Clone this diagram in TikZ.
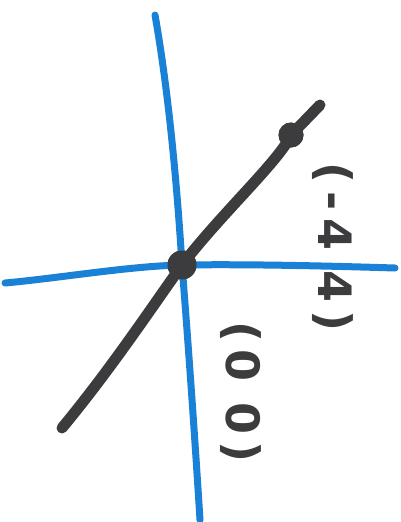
\documentclass[tikz,border=0pt]{standalone}
\usepackage{fontspec}
\setmainfont{DejaVu Sans}
\definecolor{axisblue}{RGB}{25,130,215}
\definecolor{ink}{RGB}{60,60,62}
\begin{document}
\begin{tikzpicture}[x=1pt,y=-1pt,
  axis/.style={draw=axisblue,line width=7pt,line cap=round},
  graph/.style={draw=ink,line width=11pt,line cap=round},
  dot/.style={circle,fill=ink,inner sep=0pt,minimum size=#1},
  lbl/.style={text=ink,font=\fontsize{46}{46}\selectfont\bfseries,rotate=-90,inner sep=0pt}]
\useasboundingbox (0,0) rectangle (400,522);
\coordinate (vt) at (155,15);
\coordinate (vb) at (200,520);
\coordinate (hl) at (5,283);
\coordinate (hr) at (395,268);
\coordinate (gb) at (62,428);
\coordinate (gt) at (320,105);
\node[dot=29pt] (o) at (182,265) {};
\node[dot=25pt] (p) at (291,135) {};
\draw[axis] (vt) .. controls (170,100) and (178,200) .. (o.center) .. controls (188,340) and (195,440) .. (vb);
\draw[axis] (hl) .. controls (60,278) and (130,266) .. (o.center) .. controls (250,264) and (330,266) .. (hr);
\draw[graph] (gb) .. controls (110,370) and (150,310) .. (o.center) .. controls (220,215) and (280,160) .. (p.center) -- (gt);
\node[dot=29pt] at (o) {};
\node[dot=25pt] at (p) {};
\node[lbl] (l1) at (333,247) {(\,-\,4\;\,4\,)};
\node[lbl] (l0) at (241,392) {(\,0\;\,0\,)};
\end{tikzpicture}
\end{document}
